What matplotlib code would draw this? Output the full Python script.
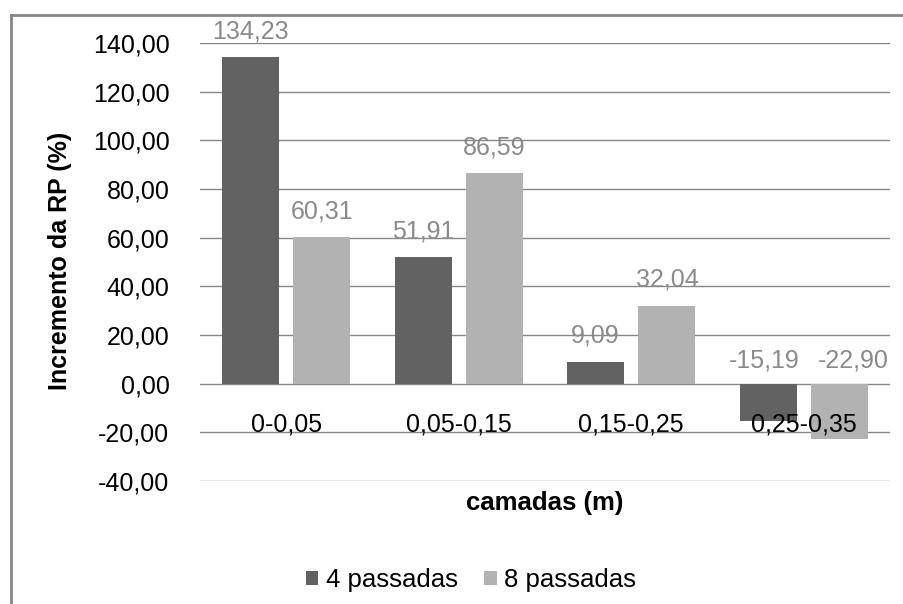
import matplotlib
matplotlib.use("Agg")
import matplotlib.pyplot as plt
from matplotlib.lines import Line2D
from matplotlib.patches import Patch
import numpy as np

plt.rcParams['font.family'] = ['Liberation Sans', 'DejaVu Sans']

camadas = ["0-0,05", "0,05-0,15", "0,15-0,25", "0,25-0,35"]
series_names = ["4 passadas", "8 passadas"]
passadas_4 = [134.23, 51.91, 9.09, -15.19]
passadas_8 = [60.31, 86.59, 32.04, -22.90]
yticks = [-40, -20, 0, 20, 40, 60, 80, 100, 120, 140]

dark = "#626262"
light = "#b2b2b2"
grid_c = "#868686"
label_c = "#8a8a8a"
fs = 18

W, H = 904, 604
fig = plt.figure(figsize=(W / 100, H / 100), dpi=100)
ax = fig.add_axes([200 / W, 1 - 481 / H, 690 / W, (481 - 43) / H])

x = np.arange(len(camadas))
bw = 0.33
off = 0.207
ax.bar(x - off, passadas_4, bw, color=dark, zorder=3)
ax.bar(x + off, passadas_8, bw, color=light, zorder=3)

ax.set_ylim(-40, 140)
ax.set_xlim(-0.5, 3.5)
ax.set_yticks(yticks)
ax.set_yticklabels([f"{v:.2f}".replace(".", ",") for v in yticks], fontsize=fs)
ax.tick_params(axis='y', length=0, pad=22)
ax.set_xticks([])
for s in ax.spines.values():
    s.set_visible(False)
ax.yaxis.grid(True, color=grid_c, lw=1.0, zorder=0)

# value labels above each bar; negative bars get theirs above the zero line,
# spread sideways so the two labels of a group do not collide
for k, (xs, vals) in enumerate(((x - off, passadas_4), (x + off, passadas_8))):
    for i, (xi, v) in enumerate(zip(xs, vals)):
        pair_negative = passadas_4[i] < 0 and passadas_8[i] < 0
        base = v if v > 0 else 0
        dy = 10 if v > 0 else 8
        dx = (-2.5 if k == 0 else 10) if pair_negative else 0
        ax.annotate(f"{v:.2f}".replace(".", ","), (xi, base), xytext=(dx, dy),
                    textcoords="offset points", ha="center", va="bottom",
                    color=label_c, fontsize=fs, zorder=5)

# category labels sit just under the zero line
for xi, c in zip(x, camadas):
    ax.text(xi, -16.9, c, ha="center", va="center", fontsize=fs, color="black", zorder=6)

ax.set_ylabel("Incremento da RP (%)", fontsize=18, fontweight="bold")
ax.yaxis.set_label_coords(60 / W, 1 - 261 / H, transform=fig.transFigure)
ax.yaxis.label.set_va("center")

fig.text(545 / W, 1 - 503 / H, "camadas (m)", ha="center", va="center",
         fontsize=18.5, fontweight="bold")

handles = [Patch(facecolor=dark), Patch(facecolor=light)]
fig.legend(handles, series_names, loc="center", bbox_to_anchor=(471 / W, 1 - 580 / H),
           ncol=2, frameon=False, fontsize=18.5, handlelength=0.5, handleheight=0.5,
           handletextpad=0.3, columnspacing=1.0)

# chart frame (top and left edges)
fig.add_artist(Line2D([10.5 / W, 1], [1 - 14.5 / H, 1 - 14.5 / H],
                      transform=fig.transFigure, color=grid_c, lw=2))
fig.add_artist(Line2D([10.5 / W, 10.5 / W], [0, 1 - 14.5 / H],
                      transform=fig.transFigure, color=grid_c, lw=2))

fig.savefig("out.png", dpi=100)
